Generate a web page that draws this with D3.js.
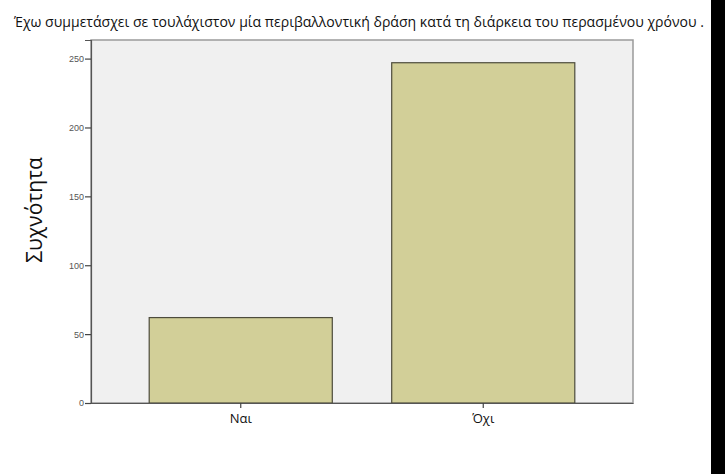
<!DOCTYPE html>
<html>
<head>
<meta charset="utf-8">
<script src="https://cdn.jsdelivr.net/npm/d3@7"></script>
<style>
  body { margin: 0; background: #fff; }
  svg { display: block; }
</style>
</head>
<body>
<div id="chart"></div>
<script>
// data
const categories = ["Ναι", "Όχι"];
const counts = [62, 247];
const yTicks = [0, 50, 100, 150, 200, 250];
const title = "Έχω συμμετάσχει σε τουλάχιστον μία περιβαλλοντική δράση κατά τη διάρκεια του περασμένου χρόνου .";
const yLabel = "Συχνότητα";

const W = 725, H = 474;
const plot = { left: 91, right: 633, top: 40, bottom: 403 };

const svg = d3.select("#chart").append("svg")
    .attr("width", W)
    .attr("height", H);

// black strip at the right edge of the screenshot
svg.append("rect")
    .attr("x", 711).attr("y", 0)
    .attr("width", W - 711).attr("height", H)
    .attr("fill", "#000");

svg.append("text")
    .attr("x", 14)
    .attr("y", 27)
    .attr("font-family", "'Liberation Sans Narrow', 'Open Sans', sans-serif")
    .attr("font-size", 14)
    .attr("fill", "#111")
    .attr("textLength", 690)
    .attr("lengthAdjust", "spacingAndGlyphs")
    .text(title);

var x = d3.scaleBand()
    .domain(categories)
    .range([plot.left, plot.right])
    .paddingInner(0.245)
    .paddingOuter(0.24);

var y = d3.scaleLinear()
    .domain([0, 263.5])
    .range([plot.bottom, plot.top]);

// plot background and frame
svg.append("rect")
    .attr("x", plot.left).attr("y", plot.top)
    .attr("width", plot.right - plot.left)
    .attr("height", plot.bottom - plot.top)
    .attr("fill", "#f0f0f0")
    .attr("stroke", "#9a9a9a")
    .attr("stroke-width", 1.5);

// bars
svg.selectAll("rect.bar")
    .data(categories)
    .join("rect")
    .attr("class", "bar")
    .attr("x", d => x(d))
    .attr("width", x.bandwidth())
    .attr("y", (d, i) => y(counts[i]))
    .attr("height", (d, i) => y(0) - y(counts[i]))
    .attr("fill", "#d2cf98")
    .attr("stroke", "#4d4c3c")
    .attr("stroke-width", 1.2);

// y axis
var yAxis = d3.axisLeft(y).tickValues(yTicks).tickSize(6).tickPadding(1);
var gy = svg.append("g")
    .attr("transform", `translate(${plot.left}, 0)`)
    .call(yAxis);
gy.select(".domain").attr("stroke", "#555").attr("stroke-width", 1.2);
gy.selectAll(".tick line").attr("stroke", "#444").attr("stroke-width", 1.2);
gy.selectAll(".tick text")
    .attr("font-family", "'Liberation Sans', Arial, sans-serif")
    .attr("font-size", 9)
    .attr("fill", "#555");

// x axis
var xAxis = d3.axisBottom(x).tickSize(5).tickPadding(6).tickSizeOuter(0);
var gx = svg.append("g")
    .attr("transform", `translate(0, ${plot.bottom})`)
    .call(xAxis);
gx.select(".domain").attr("stroke", "#555").attr("stroke-width", 1.2);
gx.selectAll(".tick line").attr("stroke", "#444").attr("stroke-width", 1.2);
gx.selectAll(".tick text")
    .attr("font-family", "'Open Sans', 'Noto Sans', sans-serif")
    .attr("font-size", 13)
    .attr("fill", "#111");

// y label
svg.append("text")
    .attr("transform", "translate(42, 210) rotate(-90)")
    .attr("text-anchor", "middle")
    .attr("font-family", "'Open Sans', 'Noto Sans', sans-serif")
    .attr("font-size", 21)
    .attr("fill", "#111")
    .text(yLabel);
</script>
</body>
</html>
